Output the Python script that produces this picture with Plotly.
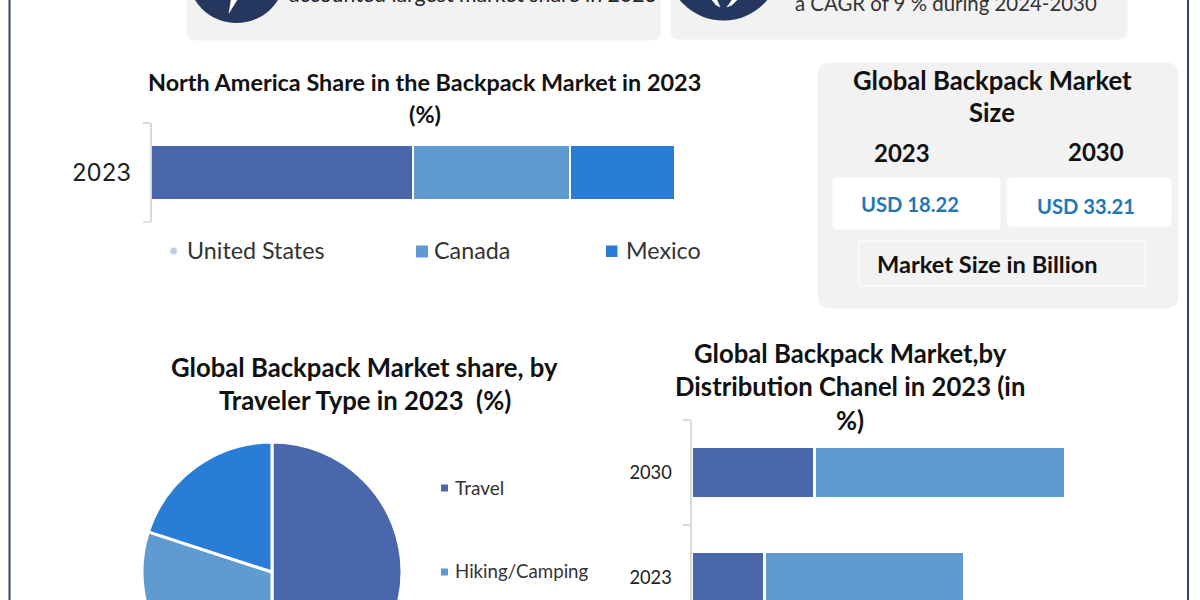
import plotly.graph_objects as go

W, H = 1200, 720

# ---- data ----
na_year = ["2023"]
na_us = [50]
na_canada = [30]
na_mexico = [20]
na_names = ["United States", "Canada", "Mexico"]

traveler_labels = ["Travel", "Hiking/Camping", "Other"]
traveler_values = [50, 30, 20]

dist_years = ["2023", "2030"]
dist_a = [19.6, 33]
dist_b = [53.5, 67]

C1, C2, C3 = "#4A67AC", "#5F9BD1", "#2A7DD6"
DARK = "#25365F"
CARD = "#F2F2F2"
FONT = "Lato"


def px(x):
    return x / W


def py(y):
    return 1 - y / H


fig = go.Figure()

# North America stacked bar
for name, vals, col in zip(na_names, [na_us, na_canada, na_mexico], [C1, C2, C3]):
    fig.add_trace(go.Bar(y=na_year, x=vals, name=name, orientation="h", width=0.56,
                         marker=dict(color=col, line=dict(color="white", width=1.5)),
                         xaxis="x", yaxis="y", showlegend=False))

# Distribution stacked bar
for name, vals, col in zip(["Channel A", "Channel B"], [dist_a, dist_b], [C1, C2]):
    fig.add_trace(go.Bar(y=dist_years, x=vals, name=name, orientation="h", width=0.49,
                         marker=dict(color=col, line=dict(color="white", width=3)),
                         xaxis="x2", yaxis="y2", showlegend=False))

# Pie
fig.add_trace(go.Pie(labels=traveler_labels, values=traveler_values, sort=False,
                     direction="clockwise", rotation=0, textinfo="none",
                     marker=dict(colors=[C1, C2, C3], line=dict(color="white", width=3)),
                     domain=dict(x=[px(142), px(402)], y=[py(702), py(442)]),
                     showlegend=False, hoverinfo="label+percent"))

axis_line = dict(showline=True, linecolor="#D9D9D9", linewidth=2, ticks="outside",
                 ticklen=7, tickcolor="#D9D9D9", tickwidth=1.5, showgrid=False, zeroline=False)

fig.update_layout(
    width=W, height=H, margin=dict(l=0, r=0, t=0, b=0), autosize=False,
    paper_bgcolor="white", plot_bgcolor="rgba(0,0,0,0)", barmode="stack",
    font=dict(family=FONT, color="#111111"),
    xaxis=dict(domain=[px(150.5), px(675)], range=[0, 100], visible=False, anchor="y"),
    yaxis=dict(domain=[py(222), py(123)], type="category", tickson="boundaries",
               anchor="free", position=px(151), range=[-0.5, 0.5],
               tickfont=dict(family="Inter", size=24, color="#222222"), ticklabelstandoff=14, **axis_line),
    xaxis2=dict(domain=[px(691), px(1065)], range=[0, 100], visible=False, anchor="y2"),
    yaxis2=dict(domain=[py(630), py(420)], type="category", tickson="boundaries",
                anchor="free", position=px(690.5), range=[-0.5, 1.5],
                categoryorder="array", categoryarray=dist_years,
                tickfont=dict(family=FONT, size=18.3, color="#222222"), ticklabelstandoff=14, **axis_line),
)

shapes = []


def rect(x0, y0, x1, y1, fill, line=None, r=8):
    path = (f"M {px(x0 + r)} {py(y0)} L {px(x1 - r)} {py(y0)} Q {px(x1)} {py(y0)} {px(x1)} {py(y0 + r)} "
            f"L {px(x1)} {py(y1 - r)} Q {px(x1)} {py(y1)} {px(x1 - r)} {py(y1)} "
            f"L {px(x0 + r)} {py(y1)} Q {px(x0)} {py(y1)} {px(x0)} {py(y1 - r)} "
            f"L {px(x0)} {py(y0 + r)} Q {px(x0)} {py(y0)} {px(x0 + r)} {py(y0)} Z")
    shapes.append(dict(type="path", xref="paper", yref="paper", path=path, fillcolor=fill,
                       line=dict(color=line or fill, width=1), layer="below"))


# Frame lines
for x in (9.5, 1188):
    shapes.append(dict(type="line", xref="paper", yref="paper", x0=px(x), x1=px(x), y0=py(0), y1=py(720),
                       line=dict(color="#2F4468", width=2), layer="below"))

# Top cards
rect(187, -30, 660, 40, CARD)
rect(671, -30, 1127, 39, CARD)
# Right panel
rect(818, 63, 1178, 308, CARD, r=12)
rect(833, 178, 1000, 229, "white", r=4)
rect(1007, 178, 1171, 226, "white", r=4)
rect(859, 241, 1145, 286, CARD, line="white", r=0)

# Icon circles
for cx, bottom, r in ((236.5, 23, 49), (723.5, 20.5, 57)):
    shapes.append(dict(type="circle", xref="paper", yref="paper", x0=px(cx - r), x1=px(cx + r),
                       y0=py(bottom - 2 * r), y1=py(bottom), fillcolor=DARK, line=dict(color=DARK, width=0),
                       layer="below"))


def glyph(points):
    path = "M " + " L ".join(f"{px(a)} {py(b)}" for a, b in points) + " Z"
    shapes.append(dict(type="path", xref="paper", yref="paper", path=path, fillcolor="white",
                       line=dict(color="white", width=0.5), layer="below"))


glyph([(229, 13), (231, 0), (237, 0)])
glyph([(712, 0), (717, 0), (720, 7), (716, 5)])
glyph([(737, 0), (732, 0), (727, 7), (732, 5)])

# Bottom tick of the single-category axis
shapes.append(dict(type="line", xref="paper", yref="paper", x0=px(143), x1=px(150), y0=py(222), y1=py(222),
                   line=dict(color="#D9D9D9", width=1.5)))

# Legend squares
for x0, y0, s, col in ((416, 245.5, 12, C2), (606, 245.5, 11.5, C3), (441, 484.5, 7, C1), (441, 568.5, 7, C2)):
    shapes.append(dict(type="rect", xref="paper", yref="paper", x0=px(x0), x1=px(x0 + s),
                       y0=py(y0 + s), y1=py(y0), fillcolor=col, line=dict(width=0)))
shapes.append(dict(type="circle", xref="paper", yref="paper", x0=px(170), x1=px(177), y0=py(254.5), y1=py(247.5),
                   fillcolor="#C5CCE6", line=dict(width=0)))
fig.update_layout(shapes=shapes)


def text(x, y, s, size, bold=False, color="#111111", anchor="center", font=FONT):
    fig.add_annotation(xref="paper", yref="paper", x=px(x), y=py(y), text=f"<b>{s}</b>" if bold else s,
                       showarrow=False, xanchor=anchor, yanchor="middle", align="center",
                       font=dict(family=font, size=size, color=color))


text(287, -6, "accounted largest market share in 2023", 21.3, anchor="left", color="#222222")
text(793, 3.5, "a CAGR of 9 % during 2024-2030", 20.4, anchor="left", color="#333333")

text(424, 82, "North America Share in the Backpack Market in 2023", 23.4, True)
text(425, 114, "(%)", 23.4, True)
text(992, 80, "Global Backpack Market", 25.7, True)
text(992, 112, "Size", 25.7, True)
text(902, 152, "2023", 24, True)
text(1096, 151, "2030", 24, True)
text(910, 203.5, "USD 18.22", 20.2, True, "#1F77B4")
text(1086, 205.5, "USD 33.21", 20.2, True, "#1F77B4")
text(987, 264, "Market Size in Billion", 23.6, True)

text(185, 250, "United States", 23.3, anchor="left", color="#333333")
text(432, 250, "Canada", 23.3, anchor="left", color="#333333")
text(624, 250, "Mexico", 23.3, anchor="left", color="#333333")

text(365, 367, "Global Backpack Market share, by", 25.7, True)
text(365, 400, "Traveler Type in 2023  (%)", 25.7, True)
text(453, 487, "Travel", 19, anchor="left", color="#333333")
text(453, 571, "Hiking/Camping", 18.7, anchor="left", color="#333333")

text(850, 353, "Global Backpack Market,by", 25.7, True)
text(850, 386, "Distribution Chanel in 2023 (in", 25.7, True)
text(850, 420, "%)", 25.7, True)

fig.write_html("out.html", config=dict(displayModeBar=False),
               post_script="document.documentElement.style.overflow='hidden';"
                           "document.body.style.margin='0';document.body.style.overflow='hidden';"
                           "document.body.style.height='600px';")
